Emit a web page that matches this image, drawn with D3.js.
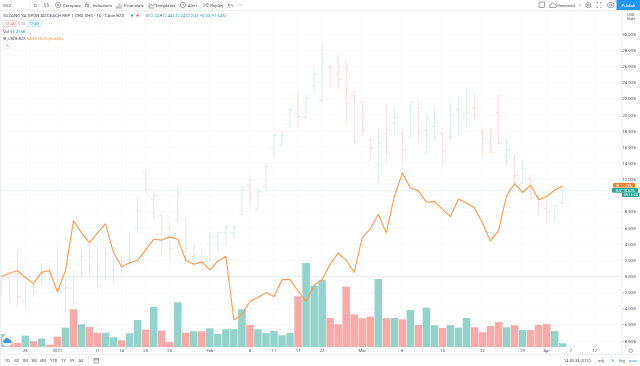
<!DOCTYPE html>
<html>
<head>
<meta charset="utf-8">
<script src="https://cdn.jsdelivr.net/npm/d3@7"></script>
<style>
  html, body { margin: 0; padding: 0; background: #fff; }
  svg#viz { display: block; font-family: Roboto, "Liberation Sans", sans-serif; }
  svg#viz text { filter: blur(0.3px); }
</style>
</head>
<body>
<svg id="viz" width="640" height="366"></svg>
<script>
// all prices in % change from the first visible bar
const opens = [-1.1,-0.3,0.3,-3.1,-1.4,-0.3,0.8,0.2,-1.5,-1.5,1.5,3.9,3.1,-0.2,0.7,1.9,1.9,6.1,12.9,9.6,7.5,6.0,6.9,7.0,2.5,2.5,4.0,5.0,5.4,5.4,7.7,11.4,8.3,11.1,15.8,16.3,18.9,20.2,19.7,23.6,21.8,26.0,25.1,25.8,22.4,21.7,16.9,13.6,17.7,19.0,17.7,17.3,20.9,18.1,18.6,17.8,17.3,20.7,20.2,20.9,18.0,16.6,20.3,14.8,14.2,11.6,12.1,9.1,8.4,8.1,9.1];
const highs = [0,-0.2,3.3,-0.8,-0.8,1.7,0.9,2.6,-0.1,-0.1,3.3,4.1,3.9,3.5,2.6,2.5,5.5,9.7,13.0,10.4,7.5,6.6,11.2,7.2,4.1,3.3,5.4,5.5,6.2,6.2,11.3,12.3,10.9,14.0,17.7,17.9,20.9,22.8,22.7,25.9,28.8,26.2,27.6,26.7,23.1,21.7,17.4,18.3,21.2,21.0,17.9,21.6,21.8,19.9,21.0,17.8,21.5,22.1,23.4,22.6,18.0,18.2,22.6,17.1,15.1,14.3,12.6,10.2,9.2,8.9,10.7];
const lows = [-2.4,-3.3,-3.6,-3.9,-2.6,-1.0,-0.5,-1.7,-4.4,-3.6,-0.2,0.2,-1.3,-0.5,-1.1,0.5,1.3,5.4,10.3,7.1,2.4,2.2,6.8,2.3,1.4,0.8,1.8,2.9,3.8,4.6,7.7,8.7,8.2,10.6,14.6,16.2,18.5,18.5,19.6,22.7,21.8,23.5,23.2,18.6,16.4,17.5,14.3,11.6,14.1,17.4,13.9,17.2,16.3,15.1,16.9,14.0,16.9,17.4,18.4,19.3,14.9,15.2,16.4,13.8,11.2,11.5,9.5,7.6,6.7,6.8,9.0];
const closes = [-0.3,-3.3,-2.5,-3.1,-1.9,0.6,0.0,-0.3,-1.4,-3.3,2.5,2.4,-1.2,2.8,0.8,1.8,2.8,8.2,10.8,10.0,5.0,3.4,10.3,3.4,2.6,0.9,4.9,5.4,6.2,6.2,10.7,9.7,10.5,13.6,17.5,17.5,20.7,19.8,22.1,25.0,26.4,25.9,24.4,21.4,16.7,18.1,15.9,16.5,15.4,19.7,15.7,21.6,17.8,19.5,19.0,15.5,20.0,22.1,20.3,20.0,17.0,15.4,16.5,15.7,12.5,13.4,9.7,8.9,8.1,8.8,10.7];
const compare = [0.0,0.4,0.7,-0.1,-0.9,0.5,0.7,-1.9,0.7,6.9,5.4,4.2,5.4,6.5,2.9,1.2,1.7,2.0,3.3,4.6,4.5,4.9,4.6,2.0,1.5,1.8,0.8,1.9,2.5,-5.4,-4.7,-3.1,-2.6,-2.0,-2.5,-0.4,-0.4,-1.8,-3.1,-1.1,-0.4,1.5,2.9,2.0,0.5,4.8,5.9,7.7,5.4,9.9,12.8,11.0,10.6,9.2,9.3,8.3,7.4,9.6,9.1,8.5,6.6,4.4,5.7,10.0,11.5,10.4,11.3,9.5,9.9,10.7,11.2];
// volume in thousands of shares
const volumes = [325,150,100,283,143,208,58,258,483,943,568,500,358,358,243,168,343,675,433,1000,408,125,1118,358,393,393,468,325,443,443,943,550,443,350,400,293,350,1268,2100,1533,1675,725,568,1508,818,718,758,1700,718,725,693,925,550,983,543,475,550,483,725,493,368,525,625,493,543,425,425,550,575,400,93];

const priceTicks = [30,28,26,24,22,20,18,16,14,12,8,6,4,2,0,-2,-4,-6,-8];
const gridTicks = [30,28,26,24,22,20,18,16,14,12,10,8,6,4,2,0,-2,-4,-6,-8];
const timeTicks = [[3,"28"],[7,"2021"],[12,"11"],[15,"14"],[18,"20"],[21,"25"],[26,"Feb"],[31,"8"],[34,"11"],[37,"17"],[40,"22"],[45,"Mar"],[50,"8"],[55,"15"],[60,"22"],[65,"29"],[68,"Apr"],[71,"7"],[74,"12"]];
const ranges = ["1D","5D","1M","3M","6M","YTD","1Y","5Y","All"];
const rangeX = [7.3,16.7,25,34,43,53.7,63.7,72,80.7];
const menuItems = [["Compare",63],["Indicators",92.7],["Financials",124],["Templates",155],["Alert",187.7],["Replay",210.3]];
const ohlcParts = [["O","12.24 "],["H","12.44 "],["L","12.24 "],["C","12.41 "],["","+0.20 (+1.64%)"]];
const lastPrice = 10.62;

const TEAL = "#26a69a", RED = "#ef5350", ORANGE = "#ff9a4d";
const paleTeal = "#d6eeeb", paleRed = "#fcdedd";
const volTeal = "#93d3cc", volRed = "#f9a9a8";
const ink = "#4a4e59";

const svg = d3.select("svg#viz");
const x = d3.scaleLinear().domain([0, 70]).range([1.3, 562.7]);
const y = d3.scaleLinear().domain([-8, 30]).range([341, 34.3]);
const yVol = d3.scaleLinear().domain([0, 2100]).range([347, 263]);
const isUp = (i) => closes[i] >= opens[i];
const idx = d3.range(volumes.length);
const axisX = 622;

// grid
const grid = svg.append("g");
grid.selectAll("line.h").data(gridTicks).join("line").attr("class", "h")
  .attr("x1", 0).attr("x2", axisX).attr("y1", d => y(d)).attr("y2", d => y(d))
  .attr("stroke", d => d === 0 ? "#e6e6e6" : "#f9f9f9").attr("stroke-width", d => d === 0 ? 0.8 : 1);
grid.selectAll("line.v").data(timeTicks).join("line").attr("class", "v")
  .attr("x1", d => x(d[0])).attr("x2", d => x(d[0])).attr("y1", 10).attr("y2", 348)
  .attr("stroke", "#f9f9f9");
grid.append("line").attr("x1", 0).attr("x2", axisX).attr("y1", y(lastPrice)).attr("y2", y(lastPrice))
  .attr("stroke", "#eaf6f5");

// ohlc
const ohlc = svg.append("g").selectAll("g").data(idx).join("g")
  .attr("stroke", i => isUp(i) ? paleTeal : paleRed).attr("stroke-width", 1);
ohlc.append("line").attr("x1", i => x(i)).attr("x2", i => x(i)).attr("y1", i => y(highs[i])).attr("y2", i => y(lows[i]));
ohlc.append("line").attr("x1", i => x(i) - 3).attr("x2", i => x(i)).attr("y1", i => y(opens[i])).attr("y2", i => y(opens[i]));
ohlc.append("line").attr("x1", i => x(i)).attr("x2", i => x(i) + 3).attr("y1", i => y(closes[i])).attr("y2", i => y(closes[i]));

// volume
svg.append("g").selectAll("rect").data(idx).join("rect")
  .attr("x", i => x(i) - 3.75).attr("width", 7.5)
  .attr("y", i => yVol(volumes[i])).attr("height", i => yVol(0) - yVol(volumes[i]))
  .attr("fill", i => isUp(i) ? volTeal : volRed);

// compared symbol
svg.append("path").datum(compare)
  .attr("fill", "none").attr("stroke", ORANGE).attr("stroke-width", 1.1).attr("stroke-linejoin", "round")
  .attr("d", d3.line().x((d, i) => x(i)).y(d => y(d)));

// frame and axes
svg.append("rect").attr("x", 0).attr("y", 0).attr("width", 640).attr("height", 10).attr("fill", "#fff");
svg.append("rect").attr("x", 0).attr("y", 355).attr("width", 640).attr("height", 11).attr("fill", "#fff");
svg.append("rect").attr("x", axisX).attr("y", 10).attr("width", 18).attr("height", 345).attr("fill", "#fff");
const frame = [[0, 10.5, 640, 10.5], [axisX, 10, axisX, 354], [0, 354.5, 640, 354.5], [0.5, 10, 0.5, 366], [595.7, 357, 595.7, 364], [88.5, 357, 88.5, 364]];
svg.append("g").selectAll("line").data(frame).join("line")
  .attr("x1", d => d[0]).attr("y1", d => d[1]).attr("x2", d => d[2]).attr("y2", d => d[3])
  .attr("stroke", "#eceef2");

const label = (g, text, px, py, opts = {}) => g.append("text").text(text)
  .attr("x", px).attr("y", py)
  .attr("text-anchor", opts.anchor || "start")
  .attr("font-size", opts.size || 4.6)
  .attr("font-weight", opts.weight || 400)
  .attr("fill", opts.fill || ink);

const axisG = svg.append("g");
priceTicks.forEach(t => {
  const s = (t < 0 ? "\u2212" + Math.abs(t) : t) + ".00%";
  label(axisG, s, 636, y(t) + 1.6, { anchor: "end", size: 4.2 });
});
timeTicks.forEach(d => label(axisG, d[1], x(d[0]), 352, { anchor: "middle", size: 4.2 }));
label(axisG, "USD", 631, 16.2, { anchor: "middle", size: 3.6 });
label(axisG, "Scale", 631, 19.5, { anchor: "middle", size: 3.6 });

// price tags
const tag = (bx, by, w, h, fill, text, ty) => {
  axisG.append("rect").attr("x", bx).attr("y", by).attr("width", w).attr("height", h).attr("rx", 0.8).attr("fill", fill);
  label(axisG, text, bx + w / 2, ty, { anchor: "middle", size: 3.6, fill: "#fff" });
};
tag(613, 183, 22, 4.6, "#ff7a1a", "IR  11.23%", 186.6);
tag(612, 188, 26, 4.8, "#26a69a", "SUZ  10.62%", 191.7);
tag(622, 192.8, 17.5, 4.2, "#26a69a", "09:16:24", 196.1);

// toolbar
const bar = svg.append("g");
label(bar, "SUZ", 3, 6.6, { size: 4.4 });
label(bar, "D", 34, 6.6, { size: 4.4 });
menuItems.forEach(d => label(bar, d[0], d[1], 6.6, { size: 4.4 }));
const sep = [30, 42, 52, 82, 114, 146, 178, 200, 226];
bar.selectAll("line").data(sep).join("line").attr("x1", d => d).attr("x2", d => d).attr("y1", 1).attr("y2", 9).attr("stroke", "#f1f2f4");

const icon = (g, path, w = 0.5) => g.append("path").attr("d", path).attr("fill", "none").attr("stroke", ink).attr("stroke-width", w);
icon(bar, "M45 3V7M45 4H44M45 6H46M48 3V7M48 4H47M48 6H49");        // bar style
bar.append("circle").attr("cx", 58).attr("cy", 5).attr("r", 2.6).attr("fill", "none").attr("stroke", ink).attr("stroke-width", 0.5);
icon(bar, "M56.8 5H59.2M58 3.8V6.2");
label(bar, "fx", 85, 7, { size: 5.5, fill: ink }).attr("font-style", "italic");
icon(bar, "M117 7.5V5.5M119 7.5V3.5M121 7.5V4.8M116 8H122");        // financials
icon(bar, "M149 7L151 4L153 6L155 3.5M149 3V8H154");                // templates
bar.append("circle").attr("cx", 183).attr("cy", 5).attr("r", 2.6).attr("fill", "none").attr("stroke", ink).attr("stroke-width", 0.5);
icon(bar, "M183 3.8V5.2H184.2");
icon(bar, "M204 3V7M208 3L205.5 5L208 7Z");                         // replay
icon(bar, "M228 5H232Q233 5 233 7M228 5L229.5 3.7M228 5L229.5 6.3");
icon(bar, "M242 5H238Q237 5 237 7M242 5L240.5 3.7M242 5L240.5 6.3").attr("stroke", "#c4c6cc");
bar.append("rect").attr("x", 539).attr("y", 2).attr("width", 5.5).attr("height", 5.5).attr("fill", "none").attr("stroke", ink).attr("stroke-width", 0.5);
icon(bar, "M550 7.5H555.5Q556.5 7.5 556.5 6Q556.5 4.8 555 4.8Q554.5 3 552.7 3Q551 3 550.7 5Q549 5.3 549 6.3Q549 7.5 550 7.5Z");
label(bar, "Unnamed", 557, 6.5, { size: 4.2 });
icon(bar, "M578.7 4.5L579.8 5.6L580.9 4.5");
bar.append("circle").attr("cx", 588.3).attr("cy", 5).attr("r", 2.6).attr("fill", "none").attr("stroke", ink).attr("stroke-width", 0.5);
bar.append("circle").attr("cx", 588.3).attr("cy", 5).attr("r", 0.9).attr("fill", "none").attr("stroke", ink).attr("stroke-width", 0.5);
icon(bar, "M597 3.5V2.5H598M600 2.5H601V3.5M601 6.5V7.5H600M598 7.5H597V6.5");
bar.append("ellipse").attr("cx", 610.7).attr("cy", 5).attr("rx", 3.4).attr("ry", 2.6).attr("fill", "none").attr("stroke", ink).attr("stroke-width", 0.5);
bar.append("circle").attr("cx", 610.7).attr("cy", 5).attr("r", 1.1).attr("fill", "none").attr("stroke", ink).attr("stroke-width", 0.5);
bar.append("rect").attr("x", 616.5).attr("y", 0).attr("width", 23.5).attr("height", 10).attr("fill", "#2196f3");
label(bar, "Publish", 628.5, 6.5, { anchor: "middle", size: 4.2, fill: "#fff" });

// legend
const leg = svg.append("g");
label(leg, "SUZANO SA SPON ADS EACH REP 1 ORD SHS \u00b7 1D \u00b7 Cboe BZX", 3, 17, { size: 4.4 });
leg.append("rect").attr("x", 129).attr("y", 13).attr("width", 11.5).attr("height", 5).attr("rx", 2.5).attr("fill", "#f3f4f6");
leg.append("circle").attr("cx", 132).attr("cy", 15.5).attr("r", 1.1).attr("fill", TEAL);
leg.append("circle").attr("cx", 137.5).attr("cy", 15.5).attr("r", 1.1).attr("fill", RED);
const ohlcText = label(leg, "", 146, 17, { size: 3.95, fill: TEAL });
ohlcParts.forEach(p => {
  ohlcText.append("tspan").text(p[0]).attr("fill", ink);
  ohlcText.append("tspan").text(p[1]);
});
leg.append("rect").attr("x", 3).attr("y", 20.5).attr("width", 14).attr("height", 6).attr("rx", 1).attr("fill", "#fff").attr("stroke", "#f7a8a8").attr("stroke-width", 0.5);
label(leg, "12.40", 10, 24.9, { anchor: "middle", size: 4.2, fill: RED });
label(leg, "0.01", 22, 24.9, { anchor: "middle", size: 3.8, fill: "#8a8e99" });
leg.append("rect").attr("x", 27).attr("y", 20.5).attr("width", 14).attr("height", 6).attr("rx", 1).attr("fill", "#fff").attr("stroke", "#a5d4f7").attr("stroke-width", 0.5);
label(leg, "12.49", 34, 24.9, { anchor: "middle", size: 4.2, fill: "#2196f3" });
label(leg, "Vol", 3, 33.4, { size: 4.2 });
label(leg, "93.265K", 10, 33.4, { size: 4.2, fill: TEAL });
label(leg, "IR, CBOE BZX", 3, 40.2, { size: 3.8 });
label(leg, "54.95 +0.25 (+0.46%)", 27, 40.2, { size: 3.8, fill: "#ff8a33" });
leg.append("rect").attr("x", 3.3).attr("y", 43.3).attr("width", 8.4).attr("height", 5.4).attr("rx", 1).attr("fill", "#fff").attr("stroke", "#e2e4e9").attr("stroke-width", 0.5);
icon(leg, "M6.3 46.6L7.5 45.4L8.7 46.6");

// logo badge
svg.append("circle").attr("cx", 7.3).attr("cy", 340.5).attr("r", 5.5).attr("fill", "#fff");
svg.append("path").attr("d", "M4.3 343Q2.8 343 2.8 341.6Q2.8 340.4 4.2 340.2Q4.5 338 6.8 338Q8.7 338 9.3 339.7Q11.7 339.8 11.7 341.5Q11.7 343 10.2 343Z").attr("fill", "#3a96dd");

// bottom bar
const foot = svg.append("g");
ranges.forEach((r, i) => label(foot, r, rangeX[i], 362, { anchor: "middle", size: 4 }));
icon(foot, "M94 358.5H98.5V363H94ZM94 359.8H98.5");
label(foot, "14:43:34 (UTC)", 564, 362, { size: 4 });
label(foot, "adj", 601, 362, { anchor: "middle", size: 4 });
label(foot, "%", 612.7, 362, { anchor: "middle", size: 4, fill: "#2196f3" });
label(foot, "log", 622, 362, { anchor: "middle", size: 4 });
label(foot, "auto", 633, 362, { anchor: "middle", size: 4, fill: "#2196f3" });
foot.append("circle").attr("cx", 630.7).attr("cy", 350.7).attr("r", 1.8).attr("fill", "none").attr("stroke", ink).attr("stroke-width", 0.5);
</script>
</body>
</html>
